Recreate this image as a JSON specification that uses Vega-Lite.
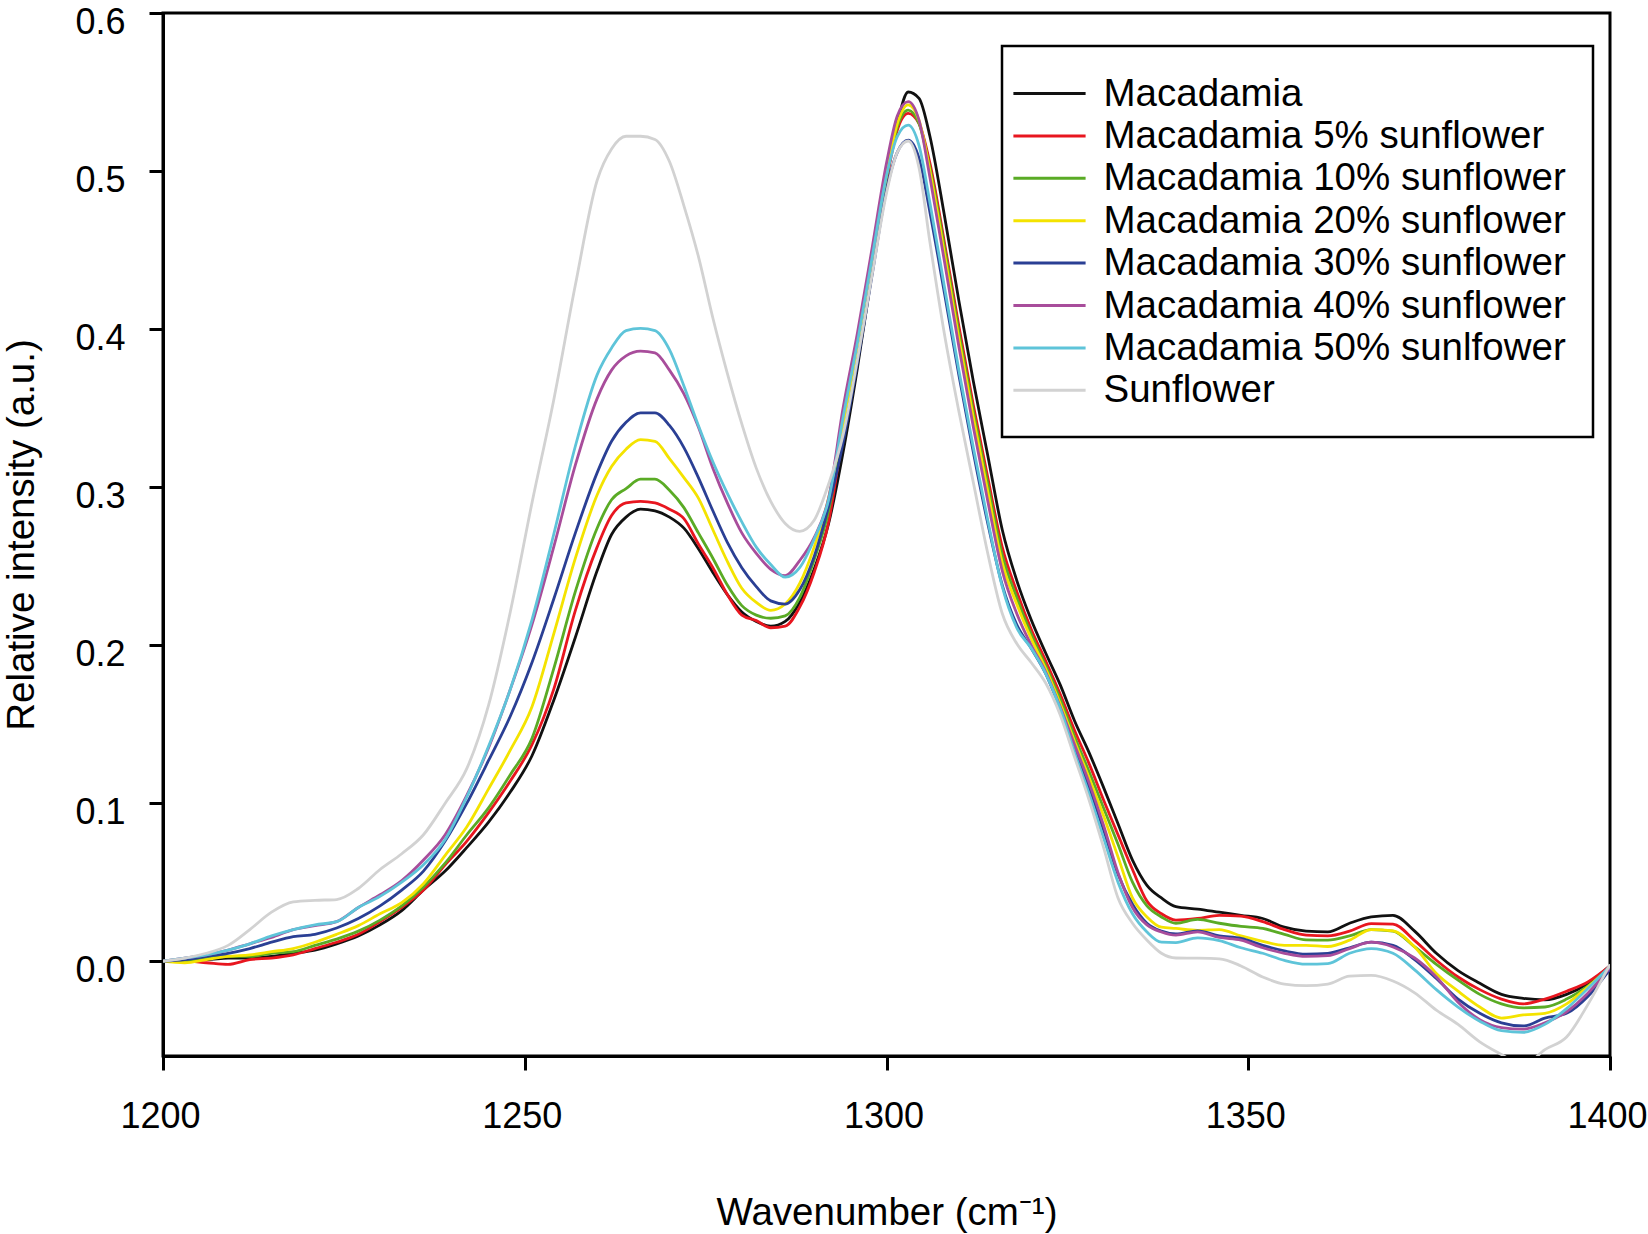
{
  "$schema": "https://vega.github.io/schema/vega-lite/v6.json",
  "width": 1447,
  "height": 1043,
  "autosize": {"type": "none"},
  "padding": {"left": 163, "top": 13, "right": 38, "bottom": 178},
  "background": "white",
  "config": {
    "font": "Liberation Sans",
    "view": {"stroke": "black", "strokeWidth": 3},
    "axis": {
      "grid": false,
      "domainColor": "black",
      "domainWidth": 3,
      "tickColor": "black",
      "tickWidth": 3,
      "tickSize": 14,
      "labelFont": "Liberation Sans",
      "labelFontSize": 36,
      "labelColor": "black",
      "labelFlush": false,
      "labelOverlap": false,
      "titleFont": "Liberation Sans",
      "titleFontWeight": "normal",
      "titleColor": "black"
    }
  },
  "data": {
    "values": [
      {"s":"Macadamia","w":1200,"v":0},{"s":"Macadamia","w":1203,"v":0.001},{"s":"Macadamia","w":1206,"v":0.001},{"s":"Macadamia","w":1209,"v":0.002},{"s":"Macadamia","w":1212,"v":0.002},{"s":"Macadamia","w":1215,"v":0.003},{"s":"Macadamia","w":1218,"v":0.005},{"s":"Macadamia","w":1221,"v":0.007},{"s":"Macadamia","w":1224,"v":0.011},{"s":"Macadamia","w":1227,"v":0.016},{"s":"Macadamia","w":1230,"v":0.023},{"s":"Macadamia","w":1233,"v":0.032},{"s":"Macadamia","w":1236,"v":0.045},{"s":"Macadamia","w":1239,"v":0.057},{"s":"Macadamia","w":1242,"v":0.072},{"s":"Macadamia","w":1245,"v":0.088},{"s":"Macadamia","w":1248,"v":0.107},{"s":"Macadamia","w":1251,"v":0.13},{"s":"Macadamia","w":1254,"v":0.165},{"s":"Macadamia","w":1257,"v":0.205},
      {"s":"Macadamia","w":1260,"v":0.247},{"s":"Macadamia","w":1262,"v":0.27},{"s":"Macadamia","w":1264,"v":0.281},{"s":"Macadamia","w":1266,"v":0.286},{"s":"Macadamia","w":1268,"v":0.285},{"s":"Macadamia","w":1270,"v":0.281},{"s":"Macadamia","w":1272,"v":0.274},{"s":"Macadamia","w":1274,"v":0.261},{"s":"Macadamia","w":1276,"v":0.246},{"s":"Macadamia","w":1278,"v":0.232},{"s":"Macadamia","w":1280,"v":0.221},{"s":"Macadamia","w":1282,"v":0.215},{"s":"Macadamia","w":1284,"v":0.212},{"s":"Macadamia","w":1286,"v":0.215},{"s":"Macadamia","w":1288,"v":0.227},{"s":"Macadamia","w":1290,"v":0.248},{"s":"Macadamia","w":1292,"v":0.277},{"s":"Macadamia","w":1294,"v":0.322},{"s":"Macadamia","w":1296,"v":0.376},{"s":"Macadamia","w":1298,"v":0.436},{"s":"Macadamia","w":1300,"v":0.495},
      {"s":"Macadamia","w":1301.5,"v":0.53},{"s":"Macadamia","w":1303,"v":0.55},{"s":"Macadamia","w":1304.5,"v":0.546},
      {"s":"Macadamia","w":1306,"v":0.522},{"s":"Macadamia","w":1308,"v":0.472},{"s":"Macadamia","w":1310,"v":0.418},{"s":"Macadamia","w":1312,"v":0.367},{"s":"Macadamia","w":1314,"v":0.32},{"s":"Macadamia","w":1316,"v":0.273},{"s":"Macadamia","w":1318,"v":0.241},{"s":"Macadamia","w":1320,"v":0.216},{"s":"Macadamia","w":1322,"v":0.195},{"s":"Macadamia","w":1324,"v":0.175},{"s":"Macadamia","w":1326,"v":0.152},{"s":"Macadamia","w":1328,"v":0.132},{"s":"Macadamia","w":1330,"v":0.11},{"s":"Macadamia","w":1332,"v":0.087},{"s":"Macadamia","w":1334,"v":0.064},{"s":"Macadamia","w":1336,"v":0.048},{"s":"Macadamia","w":1338,"v":0.04},{"s":"Macadamia","w":1340,"v":0.0345},
      {"s":"Macadamia","w":1343,"v":0.033},{"s":"Macadamia","w":1346,"v":0.031},{"s":"Macadamia","w":1349,"v":0.029},{"s":"Macadamia","w":1352,"v":0.027},{"s":"Macadamia","w":1355,"v":0.0215},{"s":"Macadamia","w":1358,"v":0.019},{"s":"Macadamia","w":1361,"v":0.0185},{"s":"Macadamia","w":1364,"v":0.024},{"s":"Macadamia","w":1367,"v":0.028},{"s":"Macadamia","w":1370,"v":0.029},{"s":"Macadamia","w":1373,"v":0.019},{"s":"Macadamia","w":1376,"v":0.005},{"s":"Macadamia","w":1379,"v":-0.006},{"s":"Macadamia","w":1382,"v":-0.014},{"s":"Macadamia","w":1385,"v":-0.021},{"s":"Macadamia","w":1388,"v":-0.0235},{"s":"Macadamia","w":1391,"v":-0.0245},{"s":"Macadamia","w":1394,"v":-0.021},{"s":"Macadamia","w":1397,"v":-0.014},{"s":"Macadamia","w":1400,"v":-0.003},

      {"s":"Macadamia 5% sunflower","w":1200,"v":0},{"s":"Macadamia 5% sunflower","w":1203,"v":0},{"s":"Macadamia 5% sunflower","w":1206,"v":-0.001},{"s":"Macadamia 5% sunflower","w":1209,"v":-0.002},{"s":"Macadamia 5% sunflower","w":1212,"v":0.001},{"s":"Macadamia 5% sunflower","w":1215,"v":0.002},{"s":"Macadamia 5% sunflower","w":1218,"v":0.004},{"s":"Macadamia 5% sunflower","w":1221,"v":0.008},{"s":"Macadamia 5% sunflower","w":1224,"v":0.012},{"s":"Macadamia 5% sunflower","w":1227,"v":0.017},{"s":"Macadamia 5% sunflower","w":1230,"v":0.025},{"s":"Macadamia 5% sunflower","w":1233,"v":0.034},{"s":"Macadamia 5% sunflower","w":1236,"v":0.045},{"s":"Macadamia 5% sunflower","w":1239,"v":0.061},{"s":"Macadamia 5% sunflower","w":1242,"v":0.076},{"s":"Macadamia 5% sunflower","w":1245,"v":0.094},{"s":"Macadamia 5% sunflower","w":1248,"v":0.114},{"s":"Macadamia 5% sunflower","w":1251,"v":0.137},{"s":"Macadamia 5% sunflower","w":1254,"v":0.172},{"s":"Macadamia 5% sunflower","w":1257,"v":0.222},
      {"s":"Macadamia 5% sunflower","w":1260,"v":0.262},{"s":"Macadamia 5% sunflower","w":1262,"v":0.282},{"s":"Macadamia 5% sunflower","w":1264,"v":0.29},{"s":"Macadamia 5% sunflower","w":1266,"v":0.291},{"s":"Macadamia 5% sunflower","w":1268,"v":0.29},{"s":"Macadamia 5% sunflower","w":1270,"v":0.286},{"s":"Macadamia 5% sunflower","w":1272,"v":0.28},{"s":"Macadamia 5% sunflower","w":1274,"v":0.264},{"s":"Macadamia 5% sunflower","w":1276,"v":0.249},{"s":"Macadamia 5% sunflower","w":1278,"v":0.232},{"s":"Macadamia 5% sunflower","w":1280,"v":0.219},{"s":"Macadamia 5% sunflower","w":1282,"v":0.2155},{"s":"Macadamia 5% sunflower","w":1284,"v":0.211},{"s":"Macadamia 5% sunflower","w":1286,"v":0.212},{"s":"Macadamia 5% sunflower","w":1288,"v":0.224},{"s":"Macadamia 5% sunflower","w":1290,"v":0.246},{"s":"Macadamia 5% sunflower","w":1292,"v":0.278},{"s":"Macadamia 5% sunflower","w":1294,"v":0.334},{"s":"Macadamia 5% sunflower","w":1296,"v":0.384},{"s":"Macadamia 5% sunflower","w":1298,"v":0.439},{"s":"Macadamia 5% sunflower","w":1300,"v":0.494},
      {"s":"Macadamia 5% sunflower","w":1301.5,"v":0.526},{"s":"Macadamia 5% sunflower","w":1303,"v":0.5365},{"s":"Macadamia 5% sunflower","w":1304.5,"v":0.53},
      {"s":"Macadamia 5% sunflower","w":1306,"v":0.505},{"s":"Macadamia 5% sunflower","w":1308,"v":0.455},{"s":"Macadamia 5% sunflower","w":1310,"v":0.402},{"s":"Macadamia 5% sunflower","w":1312,"v":0.352},{"s":"Macadamia 5% sunflower","w":1314,"v":0.306},{"s":"Macadamia 5% sunflower","w":1316,"v":0.262},{"s":"Macadamia 5% sunflower","w":1318,"v":0.234},{"s":"Macadamia 5% sunflower","w":1320,"v":0.21},{"s":"Macadamia 5% sunflower","w":1322,"v":0.19},{"s":"Macadamia 5% sunflower","w":1324,"v":0.169},{"s":"Macadamia 5% sunflower","w":1326,"v":0.146},{"s":"Macadamia 5% sunflower","w":1328,"v":0.125},{"s":"Macadamia 5% sunflower","w":1330,"v":0.102},{"s":"Macadamia 5% sunflower","w":1332,"v":0.08},{"s":"Macadamia 5% sunflower","w":1334,"v":0.058},{"s":"Macadamia 5% sunflower","w":1336,"v":0.038},{"s":"Macadamia 5% sunflower","w":1338,"v":0.03},{"s":"Macadamia 5% sunflower","w":1340,"v":0.026},
      {"s":"Macadamia 5% sunflower","w":1343,"v":0.027},{"s":"Macadamia 5% sunflower","w":1346,"v":0.029},{"s":"Macadamia 5% sunflower","w":1349,"v":0.0285},{"s":"Macadamia 5% sunflower","w":1352,"v":0.025},{"s":"Macadamia 5% sunflower","w":1355,"v":0.02},{"s":"Macadamia 5% sunflower","w":1358,"v":0.0165},{"s":"Macadamia 5% sunflower","w":1361,"v":0.016},{"s":"Macadamia 5% sunflower","w":1364,"v":0.019},{"s":"Macadamia 5% sunflower","w":1367,"v":0.0238},{"s":"Macadamia 5% sunflower","w":1370,"v":0.0235},{"s":"Macadamia 5% sunflower","w":1373,"v":0.013},{"s":"Macadamia 5% sunflower","w":1376,"v":0.0006},{"s":"Macadamia 5% sunflower","w":1379,"v":-0.01},{"s":"Macadamia 5% sunflower","w":1382,"v":-0.018},{"s":"Macadamia 5% sunflower","w":1385,"v":-0.024},{"s":"Macadamia 5% sunflower","w":1388,"v":-0.027},{"s":"Macadamia 5% sunflower","w":1391,"v":-0.024},{"s":"Macadamia 5% sunflower","w":1394,"v":-0.019},{"s":"Macadamia 5% sunflower","w":1397,"v":-0.013},{"s":"Macadamia 5% sunflower","w":1400,"v":-0.003},

      {"s":"Macadamia 10% sunflower","w":1200,"v":0},{"s":"Macadamia 10% sunflower","w":1203,"v":0},{"s":"Macadamia 10% sunflower","w":1206,"v":0.002},{"s":"Macadamia 10% sunflower","w":1209,"v":0.003},{"s":"Macadamia 10% sunflower","w":1212,"v":0.003},{"s":"Macadamia 10% sunflower","w":1215,"v":0.005},{"s":"Macadamia 10% sunflower","w":1218,"v":0.006},{"s":"Macadamia 10% sunflower","w":1221,"v":0.01},{"s":"Macadamia 10% sunflower","w":1224,"v":0.014},{"s":"Macadamia 10% sunflower","w":1227,"v":0.019},{"s":"Macadamia 10% sunflower","w":1230,"v":0.026},{"s":"Macadamia 10% sunflower","w":1233,"v":0.035},{"s":"Macadamia 10% sunflower","w":1236,"v":0.047},{"s":"Macadamia 10% sunflower","w":1239,"v":0.062},{"s":"Macadamia 10% sunflower","w":1242,"v":0.08},{"s":"Macadamia 10% sunflower","w":1245,"v":0.097},{"s":"Macadamia 10% sunflower","w":1248,"v":0.118},{"s":"Macadamia 10% sunflower","w":1251,"v":0.141},{"s":"Macadamia 10% sunflower","w":1254,"v":0.185},{"s":"Macadamia 10% sunflower","w":1257,"v":0.234},
      {"s":"Macadamia 10% sunflower","w":1260,"v":0.274},{"s":"Macadamia 10% sunflower","w":1262,"v":0.292},{"s":"Macadamia 10% sunflower","w":1264,"v":0.299},{"s":"Macadamia 10% sunflower","w":1266,"v":0.305},{"s":"Macadamia 10% sunflower","w":1268,"v":0.305},{"s":"Macadamia 10% sunflower","w":1270,"v":0.298},{"s":"Macadamia 10% sunflower","w":1272,"v":0.287},{"s":"Macadamia 10% sunflower","w":1274,"v":0.271},{"s":"Macadamia 10% sunflower","w":1276,"v":0.255},{"s":"Macadamia 10% sunflower","w":1278,"v":0.238},{"s":"Macadamia 10% sunflower","w":1280,"v":0.225},{"s":"Macadamia 10% sunflower","w":1282,"v":0.219},{"s":"Macadamia 10% sunflower","w":1284,"v":0.217},{"s":"Macadamia 10% sunflower","w":1286,"v":0.2185},{"s":"Macadamia 10% sunflower","w":1288,"v":0.23},{"s":"Macadamia 10% sunflower","w":1290,"v":0.254},{"s":"Macadamia 10% sunflower","w":1292,"v":0.285},{"s":"Macadamia 10% sunflower","w":1294,"v":0.337},{"s":"Macadamia 10% sunflower","w":1296,"v":0.387},{"s":"Macadamia 10% sunflower","w":1298,"v":0.441},{"s":"Macadamia 10% sunflower","w":1300,"v":0.496},
      {"s":"Macadamia 10% sunflower","w":1301.5,"v":0.528},{"s":"Macadamia 10% sunflower","w":1303,"v":0.5386},{"s":"Macadamia 10% sunflower","w":1304.5,"v":0.53},
      {"s":"Macadamia 10% sunflower","w":1306,"v":0.502},{"s":"Macadamia 10% sunflower","w":1308,"v":0.452},{"s":"Macadamia 10% sunflower","w":1310,"v":0.398},{"s":"Macadamia 10% sunflower","w":1312,"v":0.348},{"s":"Macadamia 10% sunflower","w":1314,"v":0.302},{"s":"Macadamia 10% sunflower","w":1316,"v":0.257},{"s":"Macadamia 10% sunflower","w":1318,"v":0.23},{"s":"Macadamia 10% sunflower","w":1320,"v":0.207},{"s":"Macadamia 10% sunflower","w":1322,"v":0.187},{"s":"Macadamia 10% sunflower","w":1324,"v":0.166},{"s":"Macadamia 10% sunflower","w":1326,"v":0.142},{"s":"Macadamia 10% sunflower","w":1328,"v":0.12},{"s":"Macadamia 10% sunflower","w":1330,"v":0.097},{"s":"Macadamia 10% sunflower","w":1332,"v":0.074},{"s":"Macadamia 10% sunflower","w":1334,"v":0.05},{"s":"Macadamia 10% sunflower","w":1336,"v":0.035},{"s":"Macadamia 10% sunflower","w":1338,"v":0.028},{"s":"Macadamia 10% sunflower","w":1340,"v":0.024},
      {"s":"Macadamia 10% sunflower","w":1343,"v":0.0264},{"s":"Macadamia 10% sunflower","w":1346,"v":0.024},{"s":"Macadamia 10% sunflower","w":1349,"v":0.022},{"s":"Macadamia 10% sunflower","w":1352,"v":0.0207},{"s":"Macadamia 10% sunflower","w":1355,"v":0.017},{"s":"Macadamia 10% sunflower","w":1358,"v":0.0135},{"s":"Macadamia 10% sunflower","w":1361,"v":0.0133},{"s":"Macadamia 10% sunflower","w":1364,"v":0.016},{"s":"Macadamia 10% sunflower","w":1367,"v":0.02},{"s":"Macadamia 10% sunflower","w":1370,"v":0.019},{"s":"Macadamia 10% sunflower","w":1373,"v":0.009},{"s":"Macadamia 10% sunflower","w":1376,"v":-0.002},{"s":"Macadamia 10% sunflower","w":1379,"v":-0.012},{"s":"Macadamia 10% sunflower","w":1382,"v":-0.021},{"s":"Macadamia 10% sunflower","w":1385,"v":-0.027},{"s":"Macadamia 10% sunflower","w":1388,"v":-0.0295},{"s":"Macadamia 10% sunflower","w":1391,"v":-0.029},{"s":"Macadamia 10% sunflower","w":1394,"v":-0.024},{"s":"Macadamia 10% sunflower","w":1397,"v":-0.0155},{"s":"Macadamia 10% sunflower","w":1400,"v":-0.004},

      {"s":"Macadamia 20% sunflower","w":1200,"v":0},{"s":"Macadamia 20% sunflower","w":1203,"v":-0.001},{"s":"Macadamia 20% sunflower","w":1206,"v":0.001},{"s":"Macadamia 20% sunflower","w":1209,"v":0.003},{"s":"Macadamia 20% sunflower","w":1212,"v":0.004},{"s":"Macadamia 20% sunflower","w":1215,"v":0.006},{"s":"Macadamia 20% sunflower","w":1218,"v":0.008},{"s":"Macadamia 20% sunflower","w":1221,"v":0.012},{"s":"Macadamia 20% sunflower","w":1224,"v":0.017},{"s":"Macadamia 20% sunflower","w":1227,"v":0.0225},{"s":"Macadamia 20% sunflower","w":1230,"v":0.03},{"s":"Macadamia 20% sunflower","w":1233,"v":0.037},{"s":"Macadamia 20% sunflower","w":1236,"v":0.049},{"s":"Macadamia 20% sunflower","w":1239,"v":0.067},{"s":"Macadamia 20% sunflower","w":1242,"v":0.085},{"s":"Macadamia 20% sunflower","w":1245,"v":0.109},{"s":"Macadamia 20% sunflower","w":1248,"v":0.1335},{"s":"Macadamia 20% sunflower","w":1251,"v":0.161},{"s":"Macadamia 20% sunflower","w":1254,"v":0.207},{"s":"Macadamia 20% sunflower","w":1257,"v":0.255},
      {"s":"Macadamia 20% sunflower","w":1260,"v":0.295},{"s":"Macadamia 20% sunflower","w":1262,"v":0.313},{"s":"Macadamia 20% sunflower","w":1264,"v":0.324},{"s":"Macadamia 20% sunflower","w":1266,"v":0.33},{"s":"Macadamia 20% sunflower","w":1268,"v":0.329},{"s":"Macadamia 20% sunflower","w":1270,"v":0.318},{"s":"Macadamia 20% sunflower","w":1272,"v":0.306},{"s":"Macadamia 20% sunflower","w":1274,"v":0.293},{"s":"Macadamia 20% sunflower","w":1276,"v":0.273},{"s":"Macadamia 20% sunflower","w":1278,"v":0.253},{"s":"Macadamia 20% sunflower","w":1280,"v":0.236},{"s":"Macadamia 20% sunflower","w":1282,"v":0.227},{"s":"Macadamia 20% sunflower","w":1284,"v":0.222},{"s":"Macadamia 20% sunflower","w":1286,"v":0.226},{"s":"Macadamia 20% sunflower","w":1288,"v":0.239},{"s":"Macadamia 20% sunflower","w":1290,"v":0.262},{"s":"Macadamia 20% sunflower","w":1292,"v":0.293},{"s":"Macadamia 20% sunflower","w":1294,"v":0.34},{"s":"Macadamia 20% sunflower","w":1296,"v":0.39},{"s":"Macadamia 20% sunflower","w":1298,"v":0.444},{"s":"Macadamia 20% sunflower","w":1300,"v":0.498},
      {"s":"Macadamia 20% sunflower","w":1301.5,"v":0.53},{"s":"Macadamia 20% sunflower","w":1303,"v":0.5418},{"s":"Macadamia 20% sunflower","w":1304.5,"v":0.532},
      {"s":"Macadamia 20% sunflower","w":1306,"v":0.5},{"s":"Macadamia 20% sunflower","w":1308,"v":0.448},{"s":"Macadamia 20% sunflower","w":1310,"v":0.394},{"s":"Macadamia 20% sunflower","w":1312,"v":0.344},{"s":"Macadamia 20% sunflower","w":1314,"v":0.297},{"s":"Macadamia 20% sunflower","w":1316,"v":0.252},{"s":"Macadamia 20% sunflower","w":1318,"v":0.226},{"s":"Macadamia 20% sunflower","w":1320,"v":0.204},{"s":"Macadamia 20% sunflower","w":1322,"v":0.185},{"s":"Macadamia 20% sunflower","w":1324,"v":0.163},{"s":"Macadamia 20% sunflower","w":1326,"v":0.139},{"s":"Macadamia 20% sunflower","w":1328,"v":0.116},{"s":"Macadamia 20% sunflower","w":1330,"v":0.092},{"s":"Macadamia 20% sunflower","w":1332,"v":0.066},{"s":"Macadamia 20% sunflower","w":1334,"v":0.04},{"s":"Macadamia 20% sunflower","w":1336,"v":0.028},{"s":"Macadamia 20% sunflower","w":1338,"v":0.0215},{"s":"Macadamia 20% sunflower","w":1340,"v":0.0207},
      {"s":"Macadamia 20% sunflower","w":1343,"v":0.0195},{"s":"Macadamia 20% sunflower","w":1346,"v":0.02},{"s":"Macadamia 20% sunflower","w":1349,"v":0.016},{"s":"Macadamia 20% sunflower","w":1352,"v":0.0125},{"s":"Macadamia 20% sunflower","w":1355,"v":0.01},{"s":"Macadamia 20% sunflower","w":1358,"v":0.01},{"s":"Macadamia 20% sunflower","w":1361,"v":0.0093},{"s":"Macadamia 20% sunflower","w":1364,"v":0.0133},{"s":"Macadamia 20% sunflower","w":1367,"v":0.02},{"s":"Macadamia 20% sunflower","w":1370,"v":0.0192},{"s":"Macadamia 20% sunflower","w":1373,"v":0.009},{"s":"Macadamia 20% sunflower","w":1376,"v":-0.0078},{"s":"Macadamia 20% sunflower","w":1379,"v":-0.019},{"s":"Macadamia 20% sunflower","w":1382,"v":-0.029},{"s":"Macadamia 20% sunflower","w":1385,"v":-0.036},{"s":"Macadamia 20% sunflower","w":1388,"v":-0.034},{"s":"Macadamia 20% sunflower","w":1391,"v":-0.033},{"s":"Macadamia 20% sunflower","w":1394,"v":-0.027},{"s":"Macadamia 20% sunflower","w":1397,"v":-0.016},{"s":"Macadamia 20% sunflower","w":1400,"v":-0.004},

      {"s":"Macadamia 30% sunflower","w":1200,"v":0},{"s":"Macadamia 30% sunflower","w":1203,"v":0.001},{"s":"Macadamia 30% sunflower","w":1206,"v":0.003},{"s":"Macadamia 30% sunflower","w":1209,"v":0.005},{"s":"Macadamia 30% sunflower","w":1212,"v":0.008},{"s":"Macadamia 30% sunflower","w":1215,"v":0.012},{"s":"Macadamia 30% sunflower","w":1218,"v":0.0155},{"s":"Macadamia 30% sunflower","w":1221,"v":0.017},{"s":"Macadamia 30% sunflower","w":1224,"v":0.021},{"s":"Macadamia 30% sunflower","w":1227,"v":0.027},{"s":"Macadamia 30% sunflower","w":1230,"v":0.035},{"s":"Macadamia 30% sunflower","w":1233,"v":0.045},{"s":"Macadamia 30% sunflower","w":1236,"v":0.057},{"s":"Macadamia 30% sunflower","w":1239,"v":0.076},{"s":"Macadamia 30% sunflower","w":1242,"v":0.1},{"s":"Macadamia 30% sunflower","w":1245,"v":0.127},{"s":"Macadamia 30% sunflower","w":1248,"v":0.155},{"s":"Macadamia 30% sunflower","w":1251,"v":0.189},{"s":"Macadamia 30% sunflower","w":1254,"v":0.229},{"s":"Macadamia 30% sunflower","w":1257,"v":0.271},
      {"s":"Macadamia 30% sunflower","w":1260,"v":0.309},{"s":"Macadamia 30% sunflower","w":1262,"v":0.329},{"s":"Macadamia 30% sunflower","w":1264,"v":0.341},{"s":"Macadamia 30% sunflower","w":1266,"v":0.347},{"s":"Macadamia 30% sunflower","w":1268,"v":0.347},{"s":"Macadamia 30% sunflower","w":1270,"v":0.339},{"s":"Macadamia 30% sunflower","w":1272,"v":0.325},{"s":"Macadamia 30% sunflower","w":1274,"v":0.306},{"s":"Macadamia 30% sunflower","w":1276,"v":0.285},{"s":"Macadamia 30% sunflower","w":1278,"v":0.265},{"s":"Macadamia 30% sunflower","w":1280,"v":0.249},{"s":"Macadamia 30% sunflower","w":1282,"v":0.237},{"s":"Macadamia 30% sunflower","w":1284,"v":0.228},{"s":"Macadamia 30% sunflower","w":1286,"v":0.226},{"s":"Macadamia 30% sunflower","w":1288,"v":0.235},{"s":"Macadamia 30% sunflower","w":1290,"v":0.256},{"s":"Macadamia 30% sunflower","w":1292,"v":0.288},{"s":"Macadamia 30% sunflower","w":1294,"v":0.328},{"s":"Macadamia 30% sunflower","w":1296,"v":0.379},{"s":"Macadamia 30% sunflower","w":1298,"v":0.434},{"s":"Macadamia 30% sunflower","w":1300,"v":0.488},
      {"s":"Macadamia 30% sunflower","w":1301.5,"v":0.512},{"s":"Macadamia 30% sunflower","w":1303,"v":0.5196},{"s":"Macadamia 30% sunflower","w":1304.5,"v":0.508},
      {"s":"Macadamia 30% sunflower","w":1306,"v":0.474},{"s":"Macadamia 30% sunflower","w":1308,"v":0.423},{"s":"Macadamia 30% sunflower","w":1310,"v":0.371},{"s":"Macadamia 30% sunflower","w":1312,"v":0.322},{"s":"Macadamia 30% sunflower","w":1314,"v":0.277},{"s":"Macadamia 30% sunflower","w":1316,"v":0.238},{"s":"Macadamia 30% sunflower","w":1318,"v":0.213},{"s":"Macadamia 30% sunflower","w":1320,"v":0.198},{"s":"Macadamia 30% sunflower","w":1322,"v":0.182},{"s":"Macadamia 30% sunflower","w":1324,"v":0.16},{"s":"Macadamia 30% sunflower","w":1326,"v":0.135},{"s":"Macadamia 30% sunflower","w":1328,"v":0.11},{"s":"Macadamia 30% sunflower","w":1330,"v":0.083},{"s":"Macadamia 30% sunflower","w":1332,"v":0.055},{"s":"Macadamia 30% sunflower","w":1334,"v":0.036},{"s":"Macadamia 30% sunflower","w":1336,"v":0.024},{"s":"Macadamia 30% sunflower","w":1338,"v":0.019},{"s":"Macadamia 30% sunflower","w":1340,"v":0.0172},
      {"s":"Macadamia 30% sunflower","w":1343,"v":0.0192},{"s":"Macadamia 30% sunflower","w":1346,"v":0.016},{"s":"Macadamia 30% sunflower","w":1349,"v":0.0144},{"s":"Macadamia 30% sunflower","w":1352,"v":0.01},{"s":"Macadamia 30% sunflower","w":1355,"v":0.0065},{"s":"Macadamia 30% sunflower","w":1358,"v":0.0045},{"s":"Macadamia 30% sunflower","w":1361,"v":0.005},{"s":"Macadamia 30% sunflower","w":1364,"v":0.0085},{"s":"Macadamia 30% sunflower","w":1367,"v":0.012},{"s":"Macadamia 30% sunflower","w":1370,"v":0.01},{"s":"Macadamia 30% sunflower","w":1373,"v":0.001},{"s":"Macadamia 30% sunflower","w":1376,"v":-0.011},{"s":"Macadamia 30% sunflower","w":1379,"v":-0.024},{"s":"Macadamia 30% sunflower","w":1382,"v":-0.033},{"s":"Macadamia 30% sunflower","w":1385,"v":-0.039},{"s":"Macadamia 30% sunflower","w":1388,"v":-0.041},{"s":"Macadamia 30% sunflower","w":1391,"v":-0.036},{"s":"Macadamia 30% sunflower","w":1394,"v":-0.033},{"s":"Macadamia 30% sunflower","w":1397,"v":-0.022},{"s":"Macadamia 30% sunflower","w":1400,"v":-0.005},

      {"s":"Macadamia 40% sunflower","w":1200,"v":0},{"s":"Macadamia 40% sunflower","w":1203,"v":0.002},{"s":"Macadamia 40% sunflower","w":1206,"v":0.004},{"s":"Macadamia 40% sunflower","w":1209,"v":0.007},{"s":"Macadamia 40% sunflower","w":1212,"v":0.011},{"s":"Macadamia 40% sunflower","w":1215,"v":0.015},{"s":"Macadamia 40% sunflower","w":1218,"v":0.02},{"s":"Macadamia 40% sunflower","w":1221,"v":0.0225},{"s":"Macadamia 40% sunflower","w":1224,"v":0.025},{"s":"Macadamia 40% sunflower","w":1227,"v":0.034},{"s":"Macadamia 40% sunflower","w":1230,"v":0.042},{"s":"Macadamia 40% sunflower","w":1233,"v":0.051},{"s":"Macadamia 40% sunflower","w":1236,"v":0.064},{"s":"Macadamia 40% sunflower","w":1239,"v":0.08},{"s":"Macadamia 40% sunflower","w":1242,"v":0.105},{"s":"Macadamia 40% sunflower","w":1245,"v":0.135},{"s":"Macadamia 40% sunflower","w":1248,"v":0.172},{"s":"Macadamia 40% sunflower","w":1251,"v":0.213},{"s":"Macadamia 40% sunflower","w":1254,"v":0.262},{"s":"Macadamia 40% sunflower","w":1257,"v":0.314},
      {"s":"Macadamia 40% sunflower","w":1260,"v":0.356},{"s":"Macadamia 40% sunflower","w":1262,"v":0.374},{"s":"Macadamia 40% sunflower","w":1264,"v":0.383},{"s":"Macadamia 40% sunflower","w":1266,"v":0.386},{"s":"Macadamia 40% sunflower","w":1268,"v":0.385},{"s":"Macadamia 40% sunflower","w":1270,"v":0.374},{"s":"Macadamia 40% sunflower","w":1272,"v":0.359},{"s":"Macadamia 40% sunflower","w":1274,"v":0.338},{"s":"Macadamia 40% sunflower","w":1276,"v":0.312},{"s":"Macadamia 40% sunflower","w":1278,"v":0.29},{"s":"Macadamia 40% sunflower","w":1280,"v":0.271},{"s":"Macadamia 40% sunflower","w":1282,"v":0.258},{"s":"Macadamia 40% sunflower","w":1284,"v":0.248},{"s":"Macadamia 40% sunflower","w":1286,"v":0.244},{"s":"Macadamia 40% sunflower","w":1288,"v":0.2535},{"s":"Macadamia 40% sunflower","w":1290,"v":0.268},{"s":"Macadamia 40% sunflower","w":1292,"v":0.293},{"s":"Macadamia 40% sunflower","w":1294,"v":0.35},{"s":"Macadamia 40% sunflower","w":1296,"v":0.398},{"s":"Macadamia 40% sunflower","w":1298,"v":0.451},{"s":"Macadamia 40% sunflower","w":1300,"v":0.505},
      {"s":"Macadamia 40% sunflower","w":1301.5,"v":0.535},{"s":"Macadamia 40% sunflower","w":1303,"v":0.5439},{"s":"Macadamia 40% sunflower","w":1304.5,"v":0.532},
      {"s":"Macadamia 40% sunflower","w":1306,"v":0.496},{"s":"Macadamia 40% sunflower","w":1308,"v":0.443},{"s":"Macadamia 40% sunflower","w":1310,"v":0.389},{"s":"Macadamia 40% sunflower","w":1312,"v":0.338},{"s":"Macadamia 40% sunflower","w":1314,"v":0.291},{"s":"Macadamia 40% sunflower","w":1316,"v":0.247},{"s":"Macadamia 40% sunflower","w":1318,"v":0.22},{"s":"Macadamia 40% sunflower","w":1320,"v":0.2},{"s":"Macadamia 40% sunflower","w":1322,"v":0.183},{"s":"Macadamia 40% sunflower","w":1324,"v":0.161},{"s":"Macadamia 40% sunflower","w":1326,"v":0.137},{"s":"Macadamia 40% sunflower","w":1328,"v":0.113},{"s":"Macadamia 40% sunflower","w":1330,"v":0.086},{"s":"Macadamia 40% sunflower","w":1332,"v":0.056},{"s":"Macadamia 40% sunflower","w":1334,"v":0.034},{"s":"Macadamia 40% sunflower","w":1336,"v":0.023},{"s":"Macadamia 40% sunflower","w":1338,"v":0.0185},{"s":"Macadamia 40% sunflower","w":1340,"v":0.0165},
      {"s":"Macadamia 40% sunflower","w":1343,"v":0.0186},{"s":"Macadamia 40% sunflower","w":1346,"v":0.015},{"s":"Macadamia 40% sunflower","w":1349,"v":0.0133},{"s":"Macadamia 40% sunflower","w":1352,"v":0.0085},{"s":"Macadamia 40% sunflower","w":1355,"v":0.005},{"s":"Macadamia 40% sunflower","w":1358,"v":0.003},{"s":"Macadamia 40% sunflower","w":1361,"v":0.0035},{"s":"Macadamia 40% sunflower","w":1364,"v":0.008},{"s":"Macadamia 40% sunflower","w":1367,"v":0.012},{"s":"Macadamia 40% sunflower","w":1370,"v":0.009},{"s":"Macadamia 40% sunflower","w":1373,"v":0.002},{"s":"Macadamia 40% sunflower","w":1376,"v":-0.01},{"s":"Macadamia 40% sunflower","w":1379,"v":-0.026},{"s":"Macadamia 40% sunflower","w":1382,"v":-0.037},{"s":"Macadamia 40% sunflower","w":1385,"v":-0.042},{"s":"Macadamia 40% sunflower","w":1388,"v":-0.043},{"s":"Macadamia 40% sunflower","w":1391,"v":-0.039},{"s":"Macadamia 40% sunflower","w":1394,"v":-0.032},{"s":"Macadamia 40% sunflower","w":1397,"v":-0.02},{"s":"Macadamia 40% sunflower","w":1400,"v":-0.004},

      {"s":"Macadamia 50% sunlfower","w":1200,"v":0},{"s":"Macadamia 50% sunlfower","w":1203,"v":0.002},{"s":"Macadamia 50% sunlfower","w":1206,"v":0.004},{"s":"Macadamia 50% sunlfower","w":1209,"v":0.007},{"s":"Macadamia 50% sunlfower","w":1212,"v":0.011},{"s":"Macadamia 50% sunlfower","w":1215,"v":0.016},{"s":"Macadamia 50% sunlfower","w":1218,"v":0.02},{"s":"Macadamia 50% sunlfower","w":1221,"v":0.023},{"s":"Macadamia 50% sunlfower","w":1224,"v":0.025},{"s":"Macadamia 50% sunlfower","w":1227,"v":0.034},{"s":"Macadamia 50% sunlfower","w":1230,"v":0.041},{"s":"Macadamia 50% sunlfower","w":1233,"v":0.05},{"s":"Macadamia 50% sunlfower","w":1236,"v":0.061},{"s":"Macadamia 50% sunlfower","w":1239,"v":0.077},{"s":"Macadamia 50% sunlfower","w":1242,"v":0.104},{"s":"Macadamia 50% sunlfower","w":1245,"v":0.136},{"s":"Macadamia 50% sunlfower","w":1248,"v":0.172},{"s":"Macadamia 50% sunlfower","w":1251,"v":0.216},{"s":"Macadamia 50% sunlfower","w":1254,"v":0.27},{"s":"Macadamia 50% sunlfower","w":1257,"v":0.326},
      {"s":"Macadamia 50% sunlfower","w":1260,"v":0.371},{"s":"Macadamia 50% sunlfower","w":1262,"v":0.388},{"s":"Macadamia 50% sunlfower","w":1264,"v":0.399},{"s":"Macadamia 50% sunlfower","w":1266,"v":0.4004},{"s":"Macadamia 50% sunlfower","w":1268,"v":0.399},{"s":"Macadamia 50% sunlfower","w":1270,"v":0.387},{"s":"Macadamia 50% sunlfower","w":1272,"v":0.364},{"s":"Macadamia 50% sunlfower","w":1274,"v":0.339},{"s":"Macadamia 50% sunlfower","w":1276,"v":0.316},{"s":"Macadamia 50% sunlfower","w":1278,"v":0.296},{"s":"Macadamia 50% sunlfower","w":1280,"v":0.278},{"s":"Macadamia 50% sunlfower","w":1282,"v":0.262},{"s":"Macadamia 50% sunlfower","w":1284,"v":0.251},{"s":"Macadamia 50% sunlfower","w":1286,"v":0.243},{"s":"Macadamia 50% sunlfower","w":1288,"v":0.249},{"s":"Macadamia 50% sunlfower","w":1290,"v":0.267},{"s":"Macadamia 50% sunlfower","w":1292,"v":0.292},{"s":"Macadamia 50% sunlfower","w":1294,"v":0.344},{"s":"Macadamia 50% sunlfower","w":1296,"v":0.392},{"s":"Macadamia 50% sunlfower","w":1298,"v":0.445},{"s":"Macadamia 50% sunlfower","w":1300,"v":0.497},
      {"s":"Macadamia 50% sunlfower","w":1301.5,"v":0.522},{"s":"Macadamia 50% sunlfower","w":1303,"v":0.529},{"s":"Macadamia 50% sunlfower","w":1304.5,"v":0.516},
      {"s":"Macadamia 50% sunlfower","w":1306,"v":0.48},{"s":"Macadamia 50% sunlfower","w":1308,"v":0.427},{"s":"Macadamia 50% sunlfower","w":1310,"v":0.374},{"s":"Macadamia 50% sunlfower","w":1312,"v":0.325},{"s":"Macadamia 50% sunlfower","w":1314,"v":0.279},{"s":"Macadamia 50% sunlfower","w":1316,"v":0.237},{"s":"Macadamia 50% sunlfower","w":1318,"v":0.211},{"s":"Macadamia 50% sunlfower","w":1320,"v":0.198},{"s":"Macadamia 50% sunlfower","w":1322,"v":0.182},{"s":"Macadamia 50% sunlfower","w":1324,"v":0.16},{"s":"Macadamia 50% sunlfower","w":1326,"v":0.132},{"s":"Macadamia 50% sunlfower","w":1328,"v":0.106},{"s":"Macadamia 50% sunlfower","w":1330,"v":0.078},{"s":"Macadamia 50% sunlfower","w":1332,"v":0.05},{"s":"Macadamia 50% sunlfower","w":1334,"v":0.03},{"s":"Macadamia 50% sunlfower","w":1336,"v":0.0185},{"s":"Macadamia 50% sunlfower","w":1338,"v":0.012},{"s":"Macadamia 50% sunlfower","w":1340,"v":0.0118},
      {"s":"Macadamia 50% sunlfower","w":1343,"v":0.0148},{"s":"Macadamia 50% sunlfower","w":1346,"v":0.013},{"s":"Macadamia 50% sunlfower","w":1349,"v":0.0085},{"s":"Macadamia 50% sunlfower","w":1352,"v":0.005},{"s":"Macadamia 50% sunlfower","w":1355,"v":0.0005},{"s":"Macadamia 50% sunlfower","w":1358,"v":-0.0019},{"s":"Macadamia 50% sunlfower","w":1361,"v":-0.0015},{"s":"Macadamia 50% sunlfower","w":1364,"v":0.005},{"s":"Macadamia 50% sunlfower","w":1367,"v":0.008},{"s":"Macadamia 50% sunlfower","w":1370,"v":0.005},{"s":"Macadamia 50% sunlfower","w":1373,"v":-0.0055},{"s":"Macadamia 50% sunlfower","w":1376,"v":-0.018},{"s":"Macadamia 50% sunlfower","w":1379,"v":-0.029},{"s":"Macadamia 50% sunlfower","w":1382,"v":-0.038},{"s":"Macadamia 50% sunlfower","w":1385,"v":-0.044},{"s":"Macadamia 50% sunlfower","w":1388,"v":-0.045},{"s":"Macadamia 50% sunlfower","w":1391,"v":-0.04},{"s":"Macadamia 50% sunlfower","w":1394,"v":-0.03},{"s":"Macadamia 50% sunlfower","w":1397,"v":-0.017},{"s":"Macadamia 50% sunlfower","w":1400,"v":-0.003},

      {"s":"Sunflower","w":1200,"v":0},{"s":"Sunflower","w":1203,"v":0.002},{"s":"Sunflower","w":1206,"v":0.005},{"s":"Sunflower","w":1209,"v":0.01},{"s":"Sunflower","w":1212,"v":0.02},{"s":"Sunflower","w":1215,"v":0.031},{"s":"Sunflower","w":1218,"v":0.0375},{"s":"Sunflower","w":1221,"v":0.0385},{"s":"Sunflower","w":1224,"v":0.039},{"s":"Sunflower","w":1227,"v":0.046},{"s":"Sunflower","w":1230,"v":0.058},{"s":"Sunflower","w":1233,"v":0.068},{"s":"Sunflower","w":1236,"v":0.08},{"s":"Sunflower","w":1239,"v":0.1},{"s":"Sunflower","w":1242,"v":0.122},{"s":"Sunflower","w":1245,"v":0.162},{"s":"Sunflower","w":1248,"v":0.221},{"s":"Sunflower","w":1251,"v":0.29},{"s":"Sunflower","w":1254,"v":0.355},{"s":"Sunflower","w":1257,"v":0.428},
      {"s":"Sunflower","w":1260,"v":0.494},{"s":"Sunflower","w":1262,"v":0.514},{"s":"Sunflower","w":1264,"v":0.522},{"s":"Sunflower","w":1266,"v":0.522},{"s":"Sunflower","w":1268,"v":0.52},{"s":"Sunflower","w":1270,"v":0.506},{"s":"Sunflower","w":1272,"v":0.478},{"s":"Sunflower","w":1274,"v":0.446},{"s":"Sunflower","w":1276,"v":0.407},{"s":"Sunflower","w":1278,"v":0.372},{"s":"Sunflower","w":1280,"v":0.34},{"s":"Sunflower","w":1282,"v":0.312},{"s":"Sunflower","w":1284,"v":0.291},{"s":"Sunflower","w":1286,"v":0.277},{"s":"Sunflower","w":1288,"v":0.272},{"s":"Sunflower","w":1290,"v":0.279},{"s":"Sunflower","w":1292,"v":0.302},{"s":"Sunflower","w":1294,"v":0.333},{"s":"Sunflower","w":1296,"v":0.381},{"s":"Sunflower","w":1298,"v":0.434},{"s":"Sunflower","w":1300,"v":0.486},
      {"s":"Sunflower","w":1301.5,"v":0.512},{"s":"Sunflower","w":1303,"v":0.519},{"s":"Sunflower","w":1304.5,"v":0.502},
      {"s":"Sunflower","w":1306,"v":0.455},{"s":"Sunflower","w":1308,"v":0.397},{"s":"Sunflower","w":1310,"v":0.348},{"s":"Sunflower","w":1312,"v":0.303},{"s":"Sunflower","w":1314,"v":0.258},{"s":"Sunflower","w":1316,"v":0.22},{"s":"Sunflower","w":1318,"v":0.201},{"s":"Sunflower","w":1320,"v":0.189},{"s":"Sunflower","w":1322,"v":0.176},{"s":"Sunflower","w":1324,"v":0.156},{"s":"Sunflower","w":1326,"v":0.129},{"s":"Sunflower","w":1328,"v":0.102},{"s":"Sunflower","w":1330,"v":0.072},{"s":"Sunflower","w":1332,"v":0.04},{"s":"Sunflower","w":1334,"v":0.024},{"s":"Sunflower","w":1336,"v":0.0133},{"s":"Sunflower","w":1338,"v":0.005},{"s":"Sunflower","w":1340,"v":0.002},
      {"s":"Sunflower","w":1343,"v":0.0019},{"s":"Sunflower","w":1346,"v":0.0015},{"s":"Sunflower","w":1349,"v":-0.003},{"s":"Sunflower","w":1352,"v":-0.01},{"s":"Sunflower","w":1355,"v":-0.0145},{"s":"Sunflower","w":1358,"v":-0.0155},{"s":"Sunflower","w":1361,"v":-0.0145},{"s":"Sunflower","w":1364,"v":-0.0095},{"s":"Sunflower","w":1367,"v":-0.009},{"s":"Sunflower","w":1370,"v":-0.0125},{"s":"Sunflower","w":1373,"v":-0.02},{"s":"Sunflower","w":1376,"v":-0.031},{"s":"Sunflower","w":1379,"v":-0.04},{"s":"Sunflower","w":1382,"v":-0.051},{"s":"Sunflower","w":1385,"v":-0.059},{"s":"Sunflower","w":1388,"v":-0.066},{"s":"Sunflower","w":1391,"v":-0.056},{"s":"Sunflower","w":1394,"v":-0.048},{"s":"Sunflower","w":1397,"v":-0.027},{"s":"Sunflower","w":1400,"v":-0.002}
    ]
  },
  "mark": {"type": "line", "strokeWidth": 2.8, "interpolate": "monotone", "clip": true},
  "encoding": {
    "x": {
      "field": "w",
      "type": "quantitative",
      "scale": {"domain": [1200, 1400], "nice": false, "zero": false},
      "axis": {
        "title": "Wavenumber (cm⁻¹)",
        "values": [1200, 1250, 1300, 1350, 1400],
        "format": "d",
        "labelPadding": 29,
        "labelOffset": -3,
        "titleFontSize": 38.5,
        "titlePadding": 60
      }
    },
    "y": {
      "field": "v",
      "type": "quantitative",
      "scale": {"domain": [-0.06, 0.6], "nice": false, "zero": false},
      "axis": {
        "title": "Relative intensity (a.u.)",
        "values": [0, 0.1, 0.2, 0.3, 0.4, 0.5, 0.6],
        "format": ".1f",
        "labelPadding": 24,
        "labelOffset": 9,
        "titleFontSize": 38.5,
        "titlePadding": 33
      }
    },
    "color": {
      "field": "s",
      "type": "nominal",
      "scale": {
        "domain": ["Macadamia", "Macadamia 5% sunflower", "Macadamia 10% sunflower", "Macadamia 20% sunflower", "Macadamia 30% sunflower", "Macadamia 40% sunflower", "Macadamia 50% sunlfower", "Sunflower"],
        "range": ["#111111", "#e8161f", "#5aab25", "#f4e300", "#2a3f94", "#a84d9b", "#5ec4d9", "#d2d2d2"]
      },
      "legend": {
        "title": null,
        "orient": "none",
        "legendX": 839,
        "legendY": 33,
        "padding": 27,
        "strokeColor": "black",
        "fillColor": "white",
        "symbolType": "M-1.9,0H1.9",
        "symbolSize": 1444,
        "symbolStrokeWidth": 3,
        "symbolOffset": 0,
        "labelOffset": 33.5,
        "labelFontSize": 38.5,
        "labelColor": "black",
        "labelLimit": 1000,
        "rowPadding": 2.4,
        "encode": {"legend": {"update": {"strokeWidth": {"value": 2.5}}}}
      }
    }
  }
}
